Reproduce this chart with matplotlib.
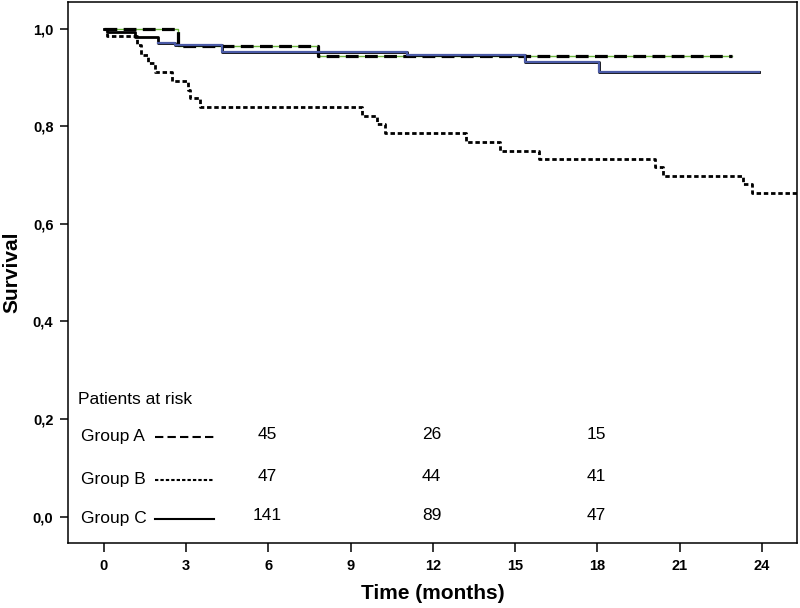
import matplotlib
matplotlib.use("Agg")
import matplotlib.pyplot as plt
import numpy as np

# ---- data ----
A_times = [0, 2.7, 7.8]
A_surv = [1.0, 0.965, 0.943]
A_end = 22.9

B_times = [0, 0.1, 1.2, 1.35, 1.6, 1.85, 2.5, 3.05, 3.15, 3.5, 9.4, 9.95, 10.25,
           13.2, 14.45, 15.85, 20.1, 20.4, 23.3, 23.65]
B_surv = [1.0, 0.984, 0.967, 0.947, 0.93, 0.911, 0.892, 0.875, 0.858, 0.84, 0.821,
          0.805, 0.786, 0.768, 0.75, 0.733, 0.717, 0.698, 0.682, 0.663]
B_end = 25.3

C_times = [0, 0.1, 1.13, 1.97, 2.6, 4.3, 11.05, 15.35, 18.05]
C_surv = [1.0, 0.994, 0.982, 0.971, 0.967, 0.953, 0.945, 0.932, 0.911]
C_end = 23.9

groups = ["Group A", "Group B", "Group C"]
risk_times = [6, 12, 18]
risk_A = [45, 26, 15]
risk_B = [47, 44, 41]
risk_C = [141, 89, 47]

x_ticks = [0, 3, 6, 9, 12, 15, 18, 21, 24]
y_ticks = [0.0, 0.2, 0.4, 0.6, 0.8, 1.0]
y_ticklabels = ["0,0", "0,2", "0,4", "0,6", "0,8", "1,0"]


def steps(times, surv, end):
    return list(times) + [end], list(surv) + [surv[-1]]


plt.rcParams["font.family"] = ["Liberation Sans", "DejaVu Sans"]

fig = plt.figure(figsize=(8, 6.08), dpi=100)
ax = fig.add_axes([0.085, 0.107, 0.911, 0.890])

# Group A: dashed black over thin green
xa, ya = steps(A_times, A_surv, A_end)
ax.step(xa, ya, where="post", color="#6fb83f", lw=1.0, zorder=2)
ax.step(xa, ya, where="post", color="black", lw=2.3, linestyle=(0, (4, 2)), zorder=3)

# Group B: dotted
xb, yb = steps(B_times, B_surv, B_end)
ax.step(xb, yb, where="post", color="black", lw=2.0, linestyle=(0, (1.6, 1.0)), zorder=3)

# Group C: solid black with blue overlay
xc, yc = steps(C_times, C_surv, C_end)
ax.step(xc, yc, where="post", color="black", lw=2.0, zorder=3)
ci = 3
ax.step(xc[ci:], yc[ci:], where="post", color="#4a5aa6", lw=1.6, zorder=4)

ax.set_xlim(-1.31, 25.27)
ax.set_ylim(-0.054, 1.055)

ax.set_xticks(x_ticks)
ax.set_xticklabels([str(t) for t in x_ticks], fontweight="bold", fontsize=10.5)
ax.set_yticks(y_ticks)
ax.set_yticklabels(y_ticklabels, fontweight="bold", fontsize=10.5)
ax.tick_params(axis="x", length=6.5, width=1.1, pad=5)
ax.tick_params(axis="y", length=5.5, width=1.1, pad=5)
for s in ax.spines.values():
    s.set_linewidth(1.1)

ax.set_xlabel("Time (months)", fontweight="bold", fontsize=15, labelpad=8)
ax.set_ylabel("Survival", fontweight="bold", fontsize=15, labelpad=8)

# risk table
ax.text(-0.95, 0.241, "Patients at risk", fontsize=12.5, va="center", ha="left")
row_y = [0.167, 0.080, 0.0]
styles = [(0, (4, 2)), (0, (1.6, 1.0)), "-"]
risk_all = [risk_A, risk_B, risk_C]
for g, yy, ls, risk in zip(groups, row_y, styles, risk_all):
    ax.text(-0.84, yy - 0.003, g, fontsize=12.5, va="center", ha="left")
    ax.plot([1.86, 4.0], [yy - 0.004, yy - 0.004], color="black", lw=1.5, linestyle=ls)
    for t, n in zip(risk_times, risk):
        ax.text(t - 0.05, yy + 0.002, str(n), fontsize=12.5, va="center", ha="center")

fig.savefig("out.png", dpi=100)
